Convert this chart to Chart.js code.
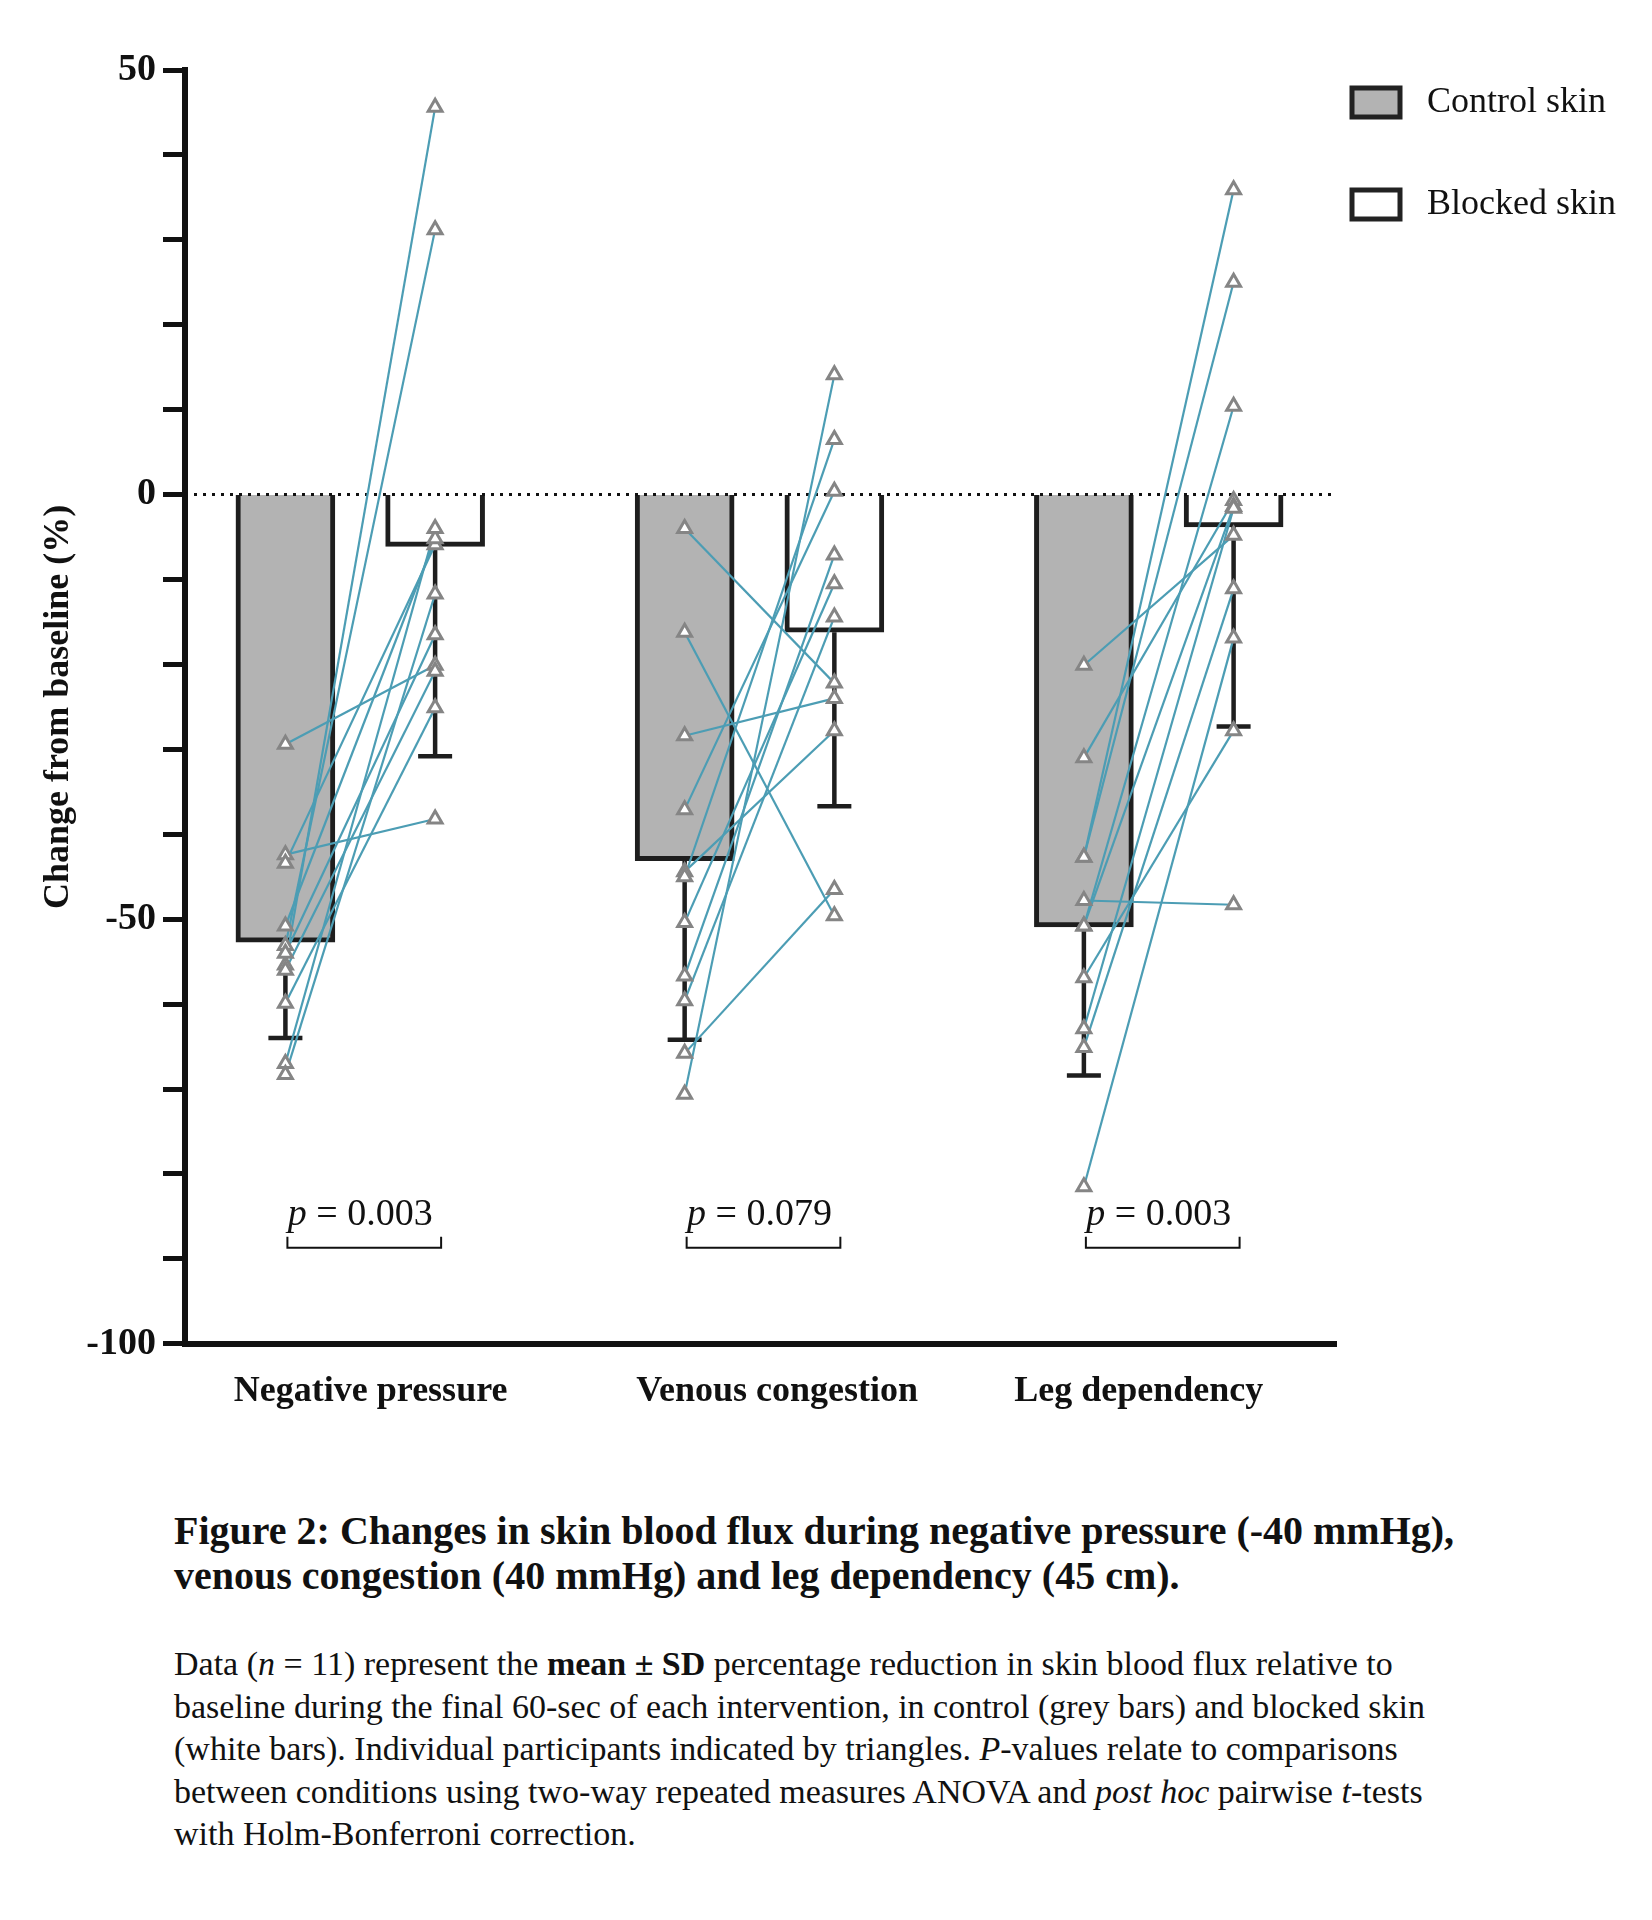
<!DOCTYPE html>
<html>
<head>
<meta charset="utf-8">
<script src="https://cdn.jsdelivr.net/npm/chart.js@4.4.1/dist/chart.umd.min.js"></script>
<style>
    body {
        margin: 0;
        background: #fff;
        width: 1652px;
        height: 1920px;
        position: relative;
        font-family: "Liberation Serif", "Times New Roman", serif;
        color: #111;
    }
    #chart {
        position: absolute;
        left: 0;
        top: 0;
    }
    .title {
        position: absolute;
        left: 174px;
        top: 1508px;
        font-size: 40px;
        line-height: 45px;
        font-weight: bold;
        white-space: nowrap;
    }
    .body {
        position: absolute;
        left: 174px;
        top: 1643px;
        font-size: 34px;
        line-height: 42.5px;
        white-space: nowrap;
    }
</style>
</head>
<body>
<canvas id="chart" width="1652" height="1457"></canvas>

<div class="title">
    Figure 2: Changes in skin blood flux during negative pressure (-40 mmHg),<br>
    venous congestion (40 mmHg) and leg dependency (45 cm).
</div>
<div class="body">
    Data (<i>n</i> = 11) represent the <b>mean ± SD</b> percentage reduction in skin blood flux relative to<br>
    baseline during the final 60-sec of each intervention, in control (grey bars) and blocked skin<br>
    (white bars). Individual participants indicated by triangles. <i>P</i>-values relate to comparisons<br>
    between conditions using two-way repeated measures ANOVA and <i>post hoc</i> pairwise <i>t</i>-tests<br>
    with Holm-Bonferroni correction.
</div>

<script>
// Data

const categories = ["Negative pressure", "Venous congestion", "Leg dependency"];

const controlMean = [-52.7, -43.1, -50.9];
const controlSD = [11.3, 21.1, 17.5];
const blockedMean = [-6.1, -16.2, -3.8];
const blockedSD = [24.7, 20.5, 23.5];

const pValues = ["0.003", "0.079", "0.003"];

// individual participants, paired control -> blocked
const npControl = [-29.4, -42.4, -43.4, -55.4, -53.1, -50.8, -54.0, -56.0, -59.9, -67.0, -68.3];
const npBlocked = [-20.1, -38.2, -5.9, 45.6, 31.2, -5.2, -16.5, -20.8, -25.1, -4.0, -11.7];

const vcControl = [-4.0, -16.2, -28.4, -37.1, -44.4, -45.0, -50.4, -56.7, -59.6, -65.8, -70.6];
const vcBlocked = [-22.2, -49.6, -24.0, 0.4, -27.8, 6.5, -10.5, -7.1, -14.4, -46.5, 14.1];

const ldControl = [-20.1, -31.0, -42.7, -42.7, -47.8, -50.8, -50.8, -56.9, -62.9, -65.1, -81.5];
const ldBlocked = [-4.8, -0.7, 35.9, 25.0, -48.3, 10.4, -1.4, -27.8, -1.6, -11.1, -16.9];

const yTicks = [50, 0, -50, -100];

const controlGroups = [npControl, vcControl, ldControl];
const blockedGroups = [npBlocked, vcBlocked, ldBlocked];

// ---------------------------------------------------------------

const serif = '"Liberation Serif", "Times New Roman", serif';
const ink = "#111111";
const teal = "#4c9db4";
const OFF = 0.1875; // half distance between the two bars of a group
const labelNudge = [0.026, 0.044, -0.05]; // category labels sit a little off centre

Chart.defaults.font.family = serif;
Chart.defaults.color = ink;

const ctrlX = (i) => i - OFF;
const blkX = (i) => i + OFF;

const datasets = [
    {
        type: "bar",
        label: "Control skin",
        data: controlMean.map((v, i) => ({ x: ctrlX(i), y: v })),
        sd: controlSD,
        backgroundColor: "#b3b3b3",
        borderColor: "#1e1e1e",
        borderWidth: 5,
        barThickness: 99,
        grouped: false,
        order: 3,
    },
    {
        type: "bar",
        label: "Blocked skin",
        data: blockedMean.map((v, i) => ({ x: blkX(i), y: v })),
        sd: blockedSD,
        backgroundColor: "#ffffff",
        borderColor: "#1e1e1e",
        borderWidth: 5,
        barThickness: 99,
        grouped: false,
        order: 3,
    },
];

// participant lines
controlGroups.forEach((group, i) => {
    group.forEach((c, k) => {
        datasets.push({
            type: "line",
            data: [
                { x: ctrlX(i), y: c },
                { x: blkX(i), y: blockedGroups[i][k] },
            ],
            borderColor: teal,
            borderWidth: 2.2,
            pointRadius: 0,
            order: 1,
        });
    });
});

// triangles on top
const triangles = (groups, fx) =>
    groups.flatMap((group, i) => group.map((v) => ({ x: fx(i), y: v })));

[triangles(controlGroups, ctrlX), triangles(blockedGroups, blkX)].forEach((pts) => {
    datasets.push({
        type: "scatter",
        data: pts,
        showLine: false,
        pointStyle: "triangle",
        pointRadius: 8,
        pointBorderWidth: 3,
        pointBorderColor: "#858585",
        pointBackgroundColor: "#ffffff",
        order: 0,
    });
});

// error bars + dotted zero line, drawn right after the bars
const errorBars = {
    id: "errorBars",
    afterDatasetDraw(chart, args) {
        if (args.meta.type !== "bar") return;
        const { ctx, chartArea } = chart;
        const y = chart.scales.y;
        const ds = chart.data.datasets[args.index];
        ctx.save();
        ctx.strokeStyle = "#1e1e1e";
        ctx.lineWidth = 4.5;
        args.meta.data.forEach((bar, i) => {
            const top = y.getPixelForValue(ds.data[i].y);
            const bot = y.getPixelForValue(ds.data[i].y - ds.sd[i]);
            ctx.beginPath();
            ctx.moveTo(bar.x, top);
            ctx.lineTo(bar.x, bot);
            ctx.moveTo(bar.x - 17, bot);
            ctx.lineTo(bar.x + 17, bot);
            ctx.stroke();
        });
        const y0 = y.getPixelForValue(0);
        ctx.setLineDash([3, 6]);
        ctx.lineWidth = 3;
        ctx.strokeStyle = ink;
        ctx.beginPath();
        ctx.moveTo(chartArea.left, y0);
        ctx.lineTo(chartArea.right, y0);
        ctx.stroke();
        ctx.restore();
    },
};

// p-values with brackets
const pLabels = {
    id: "pLabels",
    afterDatasetsDraw(chart) {
        const { ctx } = chart;
        const x = chart.scales.x;
        const y = chart.scales.y;
        ctx.save();
        ctx.fillStyle = ink;
        ctx.strokeStyle = ink;
        ctx.lineWidth = 2;
        ctx.textBaseline = "alphabetic";
        pValues.forEach((p, i) => {
            const x1 = x.getPixelForValue(ctrlX(i)) + 2;
            const x2 = x.getPixelForValue(blkX(i)) + 6;
            const yb = y.getPixelForValue(-88.7);
            const yt = y.getPixelForValue(-86);
            ctx.beginPath();
            ctx.moveTo(x1, yb - 11);
            ctx.lineTo(x1, yb);
            ctx.lineTo(x2, yb);
            ctx.lineTo(x2, yb - 11);
            ctx.stroke();

            ctx.font = "italic 38px " + serif;
            const wp = ctx.measureText("p").width;
            ctx.font = "38px " + serif;
            const rest = " = " + p;
            const wr = ctx.measureText(rest).width;
            const start = x.getPixelForValue(i) - (wp + wr) / 2;
            ctx.font = "italic 38px " + serif;
            ctx.fillText("p", start, yt);
            ctx.font = "38px " + serif;
            ctx.fillText(rest, start + wp, yt);
        });
        ctx.restore();
    },
};

// legend in the right margin
const sideLegend = {
    id: "sideLegend",
    afterDraw(chart) {
        const { ctx, chartArea } = chart;
        ctx.save();
        ctx.font = "36px " + serif;
        ctx.textBaseline = "middle";
        [0, 1].forEach((k) => {
            const ds = chart.data.datasets[k];
            const bx = chartArea.right + 16;
            const by = 88 + k * 102;
            ctx.fillStyle = ds.backgroundColor;
            ctx.fillRect(bx, by, 48, 29);
            ctx.lineWidth = 5;
            ctx.strokeStyle = "#222";
            ctx.strokeRect(bx, by, 48, 29);
            ctx.fillStyle = ink;
            ctx.fillText(ds.label, bx + 75, by + 15);
        });
        ctx.restore();
    },
};

new Chart(document.querySelector("#chart"), {
    type: "bar",
    data: { datasets },
    options: {
        responsive: false,
        animation: false,
        events: [],
        layout: {
            padding: { left: 0, right: 316, top: 70, bottom: 18 },
        },
        plugins: {
            legend: { display: false },
            tooltip: { enabled: false },
        },
        scales: {
            x: {
                type: "linear",
                offset: false,
                min: -0.439,
                max: 2.444,
                afterBuildTicks: (scale) => {
                    scale.ticks = categories.map((c, i) => ({ value: i + labelNudge[i] }));
                },
                ticks: {
                    callback: (v, idx) => categories[idx],
                    font: { size: 36, weight: "bold" },
                    color: ink,
                    padding: 26,
                    maxRotation: 0,
                    autoSkip: false,
                },
                grid: { display: false, drawTicks: false },
                border: { display: true, width: 6, color: ink },
            },
            y: {
                min: -100,
                max: 50,
                afterFit: (scale) => {
                    scale.width = 185;
                },
                ticks: {
                    stepSize: 10,
                    autoSkip: false,
                    callback: (v) => (yTicks.includes(v) ? String(v) : ""),
                    font: { size: 38, weight: "bold" },
                    color: ink,
                    padding: 7,
                },
                grid: {
                    drawOnChartArea: false,
                    drawTicks: true,
                    tickLength: 22,
                    tickWidth: 5,
                    tickColor: ink,
                },
                border: { display: true, width: 6, color: ink },
                title: {
                    display: true,
                    text: "Change from baseline (%)",
                    font: { size: 36, weight: "bold" },
                    color: ink,
                    padding: { top: 37, bottom: 0 },
                },
            },
        },
    },
    plugins: [errorBars, pLabels, sideLegend],
});
</script>
</body>
</html>
